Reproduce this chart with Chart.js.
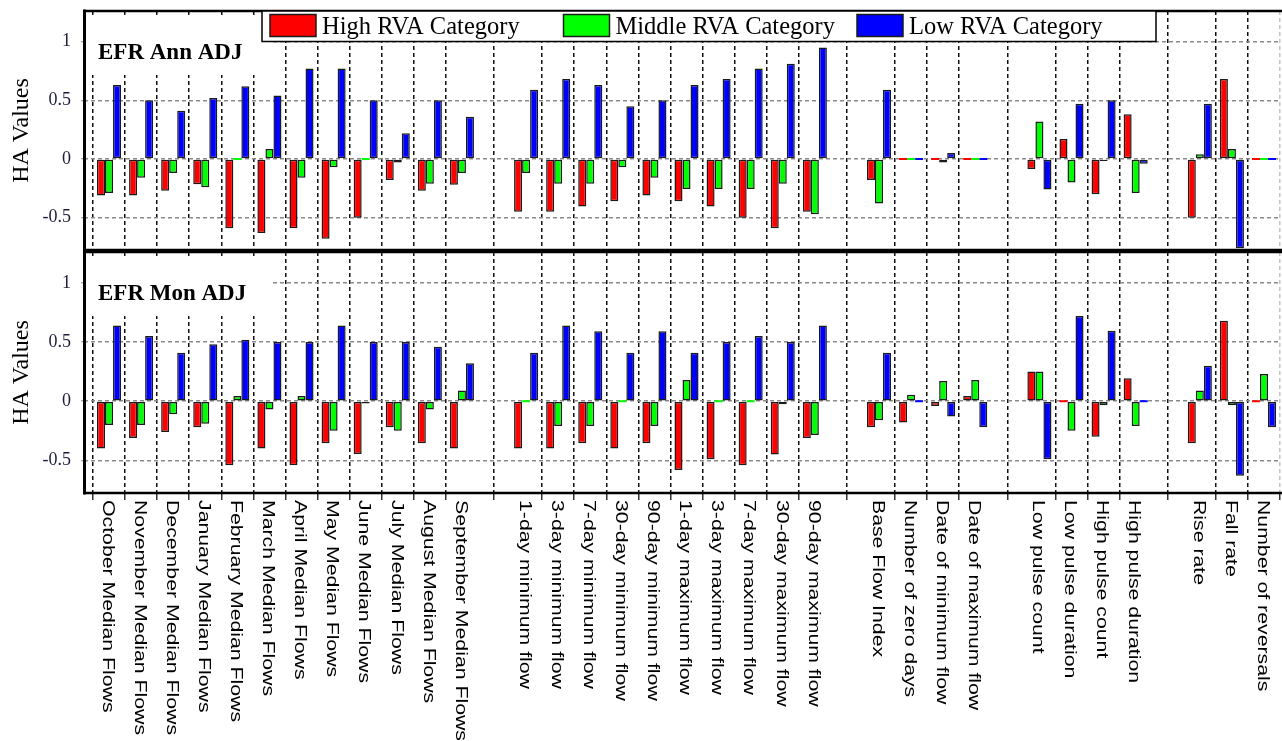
<!DOCTYPE html>
<html><head><meta charset="utf-8">
<script src="https://cdn.jsdelivr.net/npm/chart.js@4.4.1/dist/chart.umd.min.js"></script>
<style>
html,body{margin:0;padding:0;background:#fff;}
#wrap{position:relative;width:1282px;height:741px;overflow:hidden;background:#fff;}
#c1box{position:absolute;left:0;top:0;width:1282px;height:251px;}
#c2box{position:absolute;left:0;top:251px;width:1282px;height:490px;}
</style></head><body>
<div id="wrap"><div id="c1box"><canvas id="c1"></canvas></div><div id="c2box"><canvas id="c2"></canvas></div></div>
<script>
// ---------- data ----------
const categories = [
  'October Median Flows','November Median Flows','December Median Flows','January Median Flows',
  'February Median Flows','March Median Flows','April Median Flows','May Median Flows',
  'June Median Flows','July Median Flows','August Median Flows','September Median Flows',
  '1-day minimum flow','3-day minimum flow','7-day minimum flow','30-day minimum flow','90-day minimum flow',
  '1-day maximum flow','3-day maximum flow','7-day maximum flow','30-day maximum flow','90-day maximum flow',
  'Base Flow Index','Number of zero days','Date of minimum flow','Date of maximum flow',
  'Low pulse count','Low pulse duration','High pulse count','High pulse duration',
  'Rise rate','Fall rate','Number of reversals'
];
const groupSizes = [12, 10, 4, 4, 3];
const seriesNames = ['High RVA Category', 'Middle RVA Category', 'Low RVA Category'];
const seriesColors = ['#ff0000', '#00ff00', '#0000ff'];
const panelTitles = ['EFR Ann ADJ', 'EFR Mon ADJ'];
const yTicks = [-0.5, 0, 0.5, 1];

const annHigh = [-0.31,-0.31,-0.27,-0.215,-0.59,-0.63,-0.59,-0.68,-0.50,-0.18,-0.27,-0.22,
  -0.45,-0.45,-0.405,-0.36,-0.31,-0.36,-0.405,-0.50,-0.59,-0.45,
  -0.18,0,0,0, -0.085,0.17,-0.30,0.38, -0.50,0.68,0];
const annMid = [-0.29,-0.16,-0.12,-0.24,0,0.085,-0.16,-0.07,0,-0.03,-0.21,-0.12,
  -0.12,-0.21,-0.21,-0.07,-0.16,-0.255,-0.255,-0.255,-0.21,-0.47,
  -0.38,0,-0.03,0, 0.32,-0.20,-0.015,-0.29, 0.04,0.085,0];
const annLow = [0.63,0.50,0.41,0.52,0.62,0.54,0.77,0.77,0.50,0.22,0.50,0.36,
  0.59,0.68,0.63,0.45,0.50,0.63,0.68,0.77,0.81,0.95,
  0.59,0,0.05,0, -0.26,0.47,0.50,-0.04, 0.47,-0.76,0];

const monHigh = [-0.40,-0.31,-0.26,-0.22,-0.54,-0.40,-0.54,-0.355,-0.445,-0.22,-0.355,-0.40,
  -0.40,-0.40,-0.355,-0.40,-0.355,-0.58,-0.49,-0.54,-0.45,-0.31,
  -0.22,-0.18,-0.04,0.045, 0.25,0,-0.30,0.195, -0.355,0.68,0];
const monMid = [-0.20,-0.20,-0.11,-0.19,0.045,-0.07,0.045,-0.25,-0.02,-0.25,-0.07,0.09,
  0,-0.21,-0.21,0,-0.21,0.18,0,0,-0.025,-0.285,
  -0.16,0.055,0.17,0.18, 0.25,-0.25,-0.035,-0.21, 0.09,-0.035,0.23];
const monLow = [0.64,0.55,0.41,0.48,0.52,0.50,0.50,0.64,0.50,0.50,0.46,0.32,
  0.41,0.64,0.59,0.41,0.59,0.41,0.50,0.55,0.50,0.64,
  0.41,0,-0.13,-0.22, -0.49,0.72,0.595,0, 0.30,-0.63,-0.22];

// ---------- slot layout (groups separated by one empty slot) ----------
const catX = [], gridX = [];
let slot = 0;
groupSizes.forEach((n, g) => {
  for (let k = 0; k < n; k++) {
    gridX.push(g > 0 && k === 0 ? slot - 1 : slot - 0.5);
    catX.push(slot);
    slot++;
  }
  slot++;
});
const lastEdge = catX[catX.length - 1] + 0.5;
gridX.push(lastEdge);

const SERIF = '"Liberation Serif", "Times New Roman", serif';
const SANS = '"Liberation Sans", Arial, sans-serif';

function makeDataset(vals, i) {
  return {
    label: seriesNames[i],
    data: vals.map((v, k) => ({ x: catX[k], y: v })),
    backgroundColor: seriesColors[i],
    borderColor: '#1a1a1a',
    borderWidth: c => (c.raw && c.raw.y === 0) ? 0 : 1.5,
    borderSkipped: false,
    minBarLength: 2,
    categoryPercentage: 0.75,
    barPercentage: 1.0
  };
}

const framePlugin = {
  id: 'frame',
  beforeDatasetsDraw(chart) {
    const { ctx, chartArea: a } = chart;
    const t = chart.options.plugins.frame.title;
    ctx.save();
    ctx.fillStyle = '#fff';
    ctx.fillRect(a.left + 2, a.top + 6, 273 - a.left - 2, 58);
    ctx.fillStyle = '#000';
    ctx.font = 'bold 23px ' + SERIF;
    ctx.textAlign = 'left';
    ctx.textBaseline = 'alphabetic';
    ctx.fillText(t, 98, a.top + 48);
    ctx.restore();
  },
  afterDraw(chart) {
    const { ctx, chartArea: a } = chart;
    const o = chart.options.plugins.frame;
    ctx.save();
    ctx.strokeStyle = '#000';
    ctx.lineWidth = 2.5;
    ctx.beginPath();
    ctx.moveTo(a.left, a.top); ctx.lineTo(a.right + 1, a.top);
    ctx.moveTo(a.left, a.bottom); ctx.lineTo(a.right + 1, a.bottom);
    ctx.stroke();
    ctx.lineWidth = 3;
    ctx.beginPath();
    ctx.moveTo(a.left + 0.5, a.top - 1.5); ctx.lineTo(a.left + 0.5, a.bottom + 1.5);
    ctx.stroke();

    if (o.legend) {
      ctx.fillStyle = '#fff';
      ctx.fillRect(262, 11, 894, 30.5);
      ctx.lineWidth = 1.5;
      ctx.strokeStyle = '#000';
      ctx.strokeRect(262, 11, 894, 30.5);
      chart.data.datasets.forEach((d, i) => {
        const bx = 270 + i * 293.5;
        ctx.fillStyle = d.backgroundColor;
        ctx.fillRect(bx, 14.5, 46, 22);
        ctx.strokeStyle = '#1a1a1a';
        ctx.lineWidth = 1.5;
        ctx.strokeRect(bx, 14.5, 46, 22);
        ctx.fillStyle = '#000';
        ctx.font = '24.5px ' + SERIF;
        ctx.textAlign = 'left';
        ctx.textBaseline = 'alphabetic';
        ctx.fillText(d.label, bx + 52, 33.5);
      });
    }

    if (o.xLabels) {
      const xs = chart.scales.x;
      ctx.fillStyle = '#000';
      ctx.font = '17px ' + SANS;
      categories.forEach((lab, i) => {
        const px = xs.getPixelForValue(catX[i]);
        ctx.save();
        ctx.translate(px - 1.5, xs.top + 7);
        ctx.rotate(Math.PI / 2);
        ctx.scale(1.25, 1);
        ctx.textAlign = 'left';
        ctx.textBaseline = 'middle';
        ctx.fillText(lab, 0, 0);
        ctx.restore();
      });
    }
    ctx.restore();
  }
};

function makeChart(id, high, mid, low, title, isTop) {
  return new Chart(document.getElementById(id), {
    type: 'bar',
    data: { datasets: [makeDataset(high, 0), makeDataset(mid, 1), makeDataset(low, 2)] },
    options: {
      responsive: true,
      maintainAspectRatio: false,
      animation: false,
      devicePixelRatio: 1,
      layout: { padding: isTop ? { top: 11, bottom: 1, left: 0, right: 1 } : { top: 1, bottom: 0, left: 0, right: 1 } },
      plugins: {
        legend: { display: false },
        tooltip: { enabled: false },
        frame: { title: title, legend: isTop, xLabels: !isTop }
      },
      scales: {
        x: {
          type: 'linear',
          min: -0.78,
          max: lastEdge + 0.03,
          offset: false,
          afterBuildTicks: s => { s.ticks = gridX.map(v => ({ value: v })); },
          afterFit: s => { s.height = isTop ? 0 : 248; s.paddingLeft = 0; s.paddingRight = 0; s.paddingTop = 0; s.paddingBottom = 0; },
          ticks: { display: false },
          grid: {
            offset: false,
            color: c => (c.tick && c.tick.value === lastEdge) ? '#c4c4c4' : '#111',
            lineWidth: 1.5,
            drawTicks: !isTop,
            tickLength: 7,
            tickColor: '#333',
            tickWidth: 1.5
          },
          border: { display: false, dash: [4, 3] }
        },
        y: {
          min: -0.775,
          max: 1.26,
          afterBuildTicks: s => { s.ticks = yTicks.map(v => ({ value: v })); },
          afterFit: s => { s.width = 84; s.paddingTop = 0; s.paddingBottom = 0; s.paddingLeft = 0; s.paddingRight = 0; },
          ticks: {
            font: { family: SERIF, size: 18 },
            color: '#1c1c3c',
            padding: 10,
            callback: v => String(v)
          },
          grid: { color: '#8a8a8a', lineWidth: 1.5, drawTicks: true, tickLength: 3, tickColor: '#888', tickWidth: 1 },
          border: { display: false, dash: [4, 3] },
          title: { display: true, text: 'HA Values', font: { family: SERIF, size: 24 }, color: '#000', padding: { top: 7, bottom: 0 } }
        }
      }
    },
    plugins: [framePlugin]
  });
}

makeChart('c1', annHigh, annMid, annLow, panelTitles[0], true);
makeChart('c2', monHigh, monMid, monLow, panelTitles[1], false);
</script>
</body></html>
